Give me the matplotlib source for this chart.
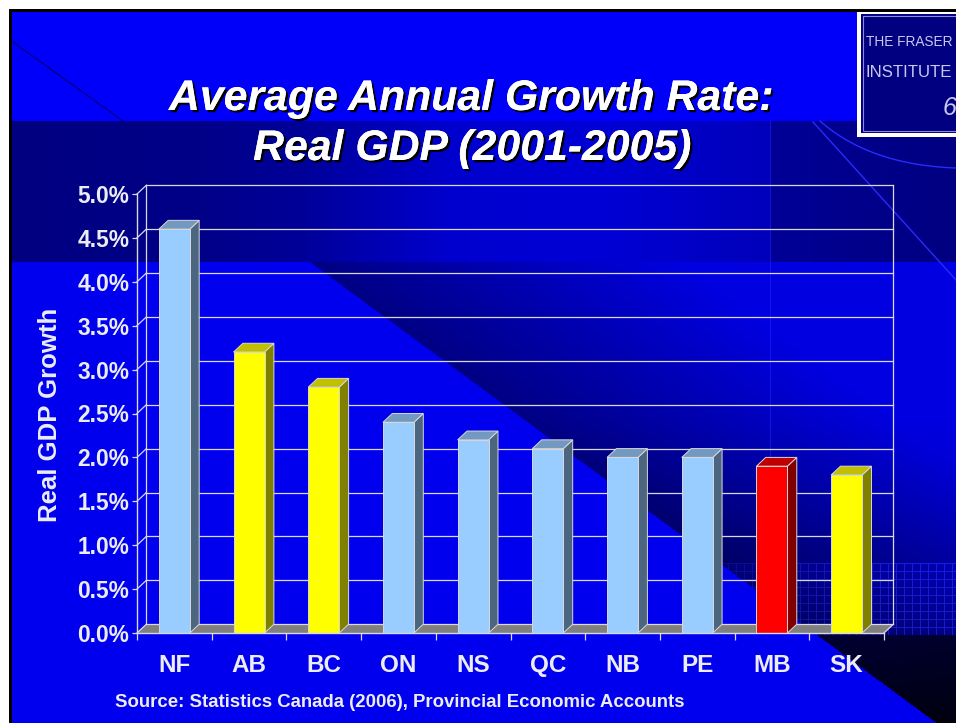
import numpy as np
import matplotlib
matplotlib.use("Agg")
import matplotlib.pyplot as plt
from matplotlib.patches import Polygon, Rectangle
import matplotlib.patheffects as pe
from matplotlib import font_manager

# ---- data -------------------------------------------------------------
provinces = ["NF", "AB", "BC", "ON", "NS", "QC", "NB", "PE", "MB", "SK"]
growth = [4.6, 3.2, 2.8, 2.4, 2.2, 2.1, 2.0, 2.0, 1.9, 1.8]
bar_style = ["blue", "yellow", "yellow", "blue", "blue", "blue",
             "blue", "blue", "red", "yellow"]
y_ticks = [0.0, 0.5, 1.0, 1.5, 2.0, 2.5, 3.0, 3.5, 4.0, 4.5, 5.0]
title_lines = ["Average Annual Growth Rate:", "Real GDP (2001-2005)"]
y_label = "Real GDP Growth"
source_note = "Source: Statistics Canada (2006), Provincial Economic Accounts"
logo_lines = ["THE FRASER", "INSTITUTE"]
slide_number = "6"

# face colours: (front, top, side)
faces = {
    "blue":   ("#99ccff", "#7399c0", "#4d6680"),
    "yellow": ("#ffff00", "#c0c000", "#808000"),
    "red":    ("#ff0000", "#bf0000", "#800000"),
}

plt.rcParams["font.family"] = ["Liberation Sans", "DejaVu Sans"]
plt.rcParams["font.weight"] = "bold"
plt.rcParams["axes.labelweight"] = "bold"

W, H = 956, 723
TXT = "#ececf6"
LINE = "#d8d8e8"

fig = plt.figure(figsize=(W / 100, H / 100), dpi=100)
fig.patch.set_facecolor("white")

# ---- slide background (pixel coordinates, y down) ----------------------
ax_bg = fig.add_axes([0, 0, 1, 1], zorder=0)
ax_bg.set_xlim(0, W)
ax_bg.set_ylim(H, 0)
ax_bg.axis("off")

yy, xx = np.mgrid[0:H, 0:W].astype(float) + 0.5
R = np.zeros((H, W))
G = np.zeros((H, W))
B = np.full((H, W), 238.0)

B[yy < 121] = 250
band = (yy >= 121) & (yy < 262)
B[band] = np.interp(xx[band], [12, 200, 300, 450, 600, 769, 771, 956],
                    [128, 136, 152, 206, 214, 186, 150, 128])

d = 0.593 * (xx - 310) - 0.806 * (yy - 262)
right = (yy >= 262) & (d >= 0)
upper = right & (yy < 635)
B[upper] = np.clip(132 + np.minimum(d, 220) * 0.42
                   - np.maximum(0, yy - 420) * 0.22, 70, 225)[upper]
mesh = upper & (xx >= 600) & (yy >= 563)
fade = np.clip((xx - 640) / 220, 0, 1)
B[mesh] += 18
gridm = mesh & ((((xx - 600) % 8) < 1) | (((yy - 563) % 8) < 1))
B[gridm] += (60 * fade)[gridm]
R[gridm] += (25 * fade)[gridm]
G[gridm] += (25 * fade)[gridm]
lower = right & (yy >= 635)
B[lower] = np.clip(52 - (yy - 635) * 0.35 - (xx - 818) * 0.05, 8, 60)[lower]

frame = (xx < 12) | (yy < 12)
R[frame] = G[frame] = B[frame] = 0
white = (xx < 9) | (yy < 9)
R[white] = G[white] = B[white] = 255

img = np.clip(np.dstack([R, G, B]) / 255.0, 0, 1)
ax_bg.imshow(img, extent=(0, W, H, 0), aspect="auto", interpolation="nearest", zorder=0)

# decorative strokes
ax_bg.plot([13, 123], [42, 121], color="#000070", lw=0.8, zorder=1)
ax_bg.plot([813, 956], [122, 280], color="#2a2aff", lw=1.0, zorder=1)
t = np.linspace(0, 1, 60)
p0, pc, p2 = np.array([820, 121]), np.array([870, 165]), np.array([956, 168])
arc = ((1 - t) ** 2)[:, None] * p0 + (2 * (1 - t) * t)[:, None] * pc + (t ** 2)[:, None] * p2
ax_bg.plot(arc[:, 0], arc[:, 1], color="#2a2aff", lw=1.0, zorder=1)
ax_bg.plot([770, 770], [121, 560], color="#2020ff", lw=0.8, alpha=0.6, zorder=1)

# logo box
ax_bg.add_patch(Rectangle((857, 12), 110, 125, fc="white", ec="none", zorder=2))
ax_bg.add_patch(Rectangle((861, 14), 110, 119, fc="#000080", ec="none", zorder=2))
ax_bg.add_patch(Rectangle((863, 16), 110, 115, fill=False, ec="#8a8ad8", lw=0.8, zorder=2))
font_names = {f.name for f in font_manager.fontManager.ttflist}
if "Liberation Sans Narrow" in font_names:
    logo_family = ["Liberation Sans Narrow", "DejaVu Sans"]
else:
    logo_family = ["Liberation Sans", "DejaVu Sans"]
renderer = fig.canvas.get_renderer()
for txt, yb in zip(logo_lines, (46, 77)):
    lt = ax_bg.text(866, yb, txt, family=logo_family, fontweight="normal",
                    fontsize=16, color="#c8c8f0", ha="left", va="baseline", zorder=3)
    width = lt.get_window_extent(renderer=renderer).width
    lt.set_fontsize(16 * 87.0 / width)
ax_bg.text(943, 115, slide_number, fontweight="normal", style="italic", fontsize=18,
           color="#c8c8f0", ha="left", va="baseline", zorder=3)

# title and source note
shadow = [pe.withSimplePatchShadow(offset=(1.6, -1.6), shadow_rgbFace="black", alpha=1.0),
          pe.Normal()]
ax_bg.text(471, 110, title_lines[0], ha="center", va="baseline", fontsize=30.8,
           style="italic", color="white", path_effects=shadow, zorder=3)
ax_bg.text(472, 160, title_lines[1], ha="center", va="baseline", fontsize=30.8,
           style="italic", color="white", path_effects=shadow, zorder=3)
ax_bg.text(115, 707, source_note, ha="left", va="baseline", fontsize=13.4,
           color=TXT, zorder=3)

# ---- 3-D column chart -------------------------------------------------
x0p, x1p, y0p, y1p = 137, 884, 633, 194
ax = fig.add_axes([x0p / W, 1 - y0p / H, (x1p - x0p) / W, (y0p - y1p) / H], zorder=1)
ax.patch.set_visible(False)
n = len(provinces)
ax.set_xlim(0, n)
ax.set_ylim(0, y_ticks[-1])

DX, DY = 0.125, 0.1   # depth offset of the chart box (data units)
BW = 0.415            # column width

# floor
ax.add_patch(Polygon([(0, 0), (n, 0), (n + DX, DY), (DX, DY)], closed=True,
                     fc="#808080", ec="none", zorder=1, clip_on=False))
# back wall grid, side wall diagonals and box edges
for v in y_ticks:
    ax.plot([DX, n + DX], [v + DY, v + DY], color=LINE, lw=0.9, zorder=2, clip_on=False)
    ax.plot([0, DX], [v, v + DY], color=LINE, lw=0.9, zorder=2, clip_on=False)
ax.plot([DX, DX], [DY, y_ticks[-1] + DY], color=LINE, lw=0.9, zorder=2, clip_on=False)
ax.plot([n + DX, n + DX], [DY, y_ticks[-1] + DY], color=LINE, lw=0.9, zorder=2, clip_on=False)
ax.plot([n, n + DX], [0, DY], color=LINE, lw=0.9, zorder=2, clip_on=False)

# columns
for i, (v, key) in enumerate(zip(growth, bar_style)):
    front, top, side = faces[key]
    xa = i + 0.5 - BW / 2
    xb = xa + BW
    kw = dict(ec="#d8d8d8", lw=0.7, zorder=5, clip_on=False)
    ax.add_patch(Polygon([(xb, 0), (xb + DX, DY), (xb + DX, v + DY), (xb, v)],
                         closed=True, fc=side, **kw))
    ax.add_patch(Polygon([(xa, v), (xb, v), (xb + DX, v + DY), (xa + DX, v + DY)],
                         closed=True, fc=top, **kw))
    ax.add_patch(Rectangle((xa, 0), BW, v, fc=front, **kw))

for s in ("top", "right"):
    ax.spines[s].set_visible(False)
for s in ("left", "bottom"):
    ax.spines[s].set_color(LINE)
    ax.spines[s].set_linewidth(1.0)
    ax.spines[s].set_zorder(6)

ax.set_yticks(y_ticks)
ax.set_yticklabels([f"{v:.1f}%" for v in y_ticks])
ax.tick_params(axis="y", direction="out", length=3.6, width=0.9, color=LINE,
               pad=2, labelsize=16.4, labelcolor=TXT)

ax.set_xticks(np.arange(n + 1))
ax.set_xticklabels([])
ax.tick_params(axis="x", which="major", direction="out", length=5, width=0.9, color=LINE)
ax.set_xticks(np.arange(n) + 0.5, minor=True)
ax.set_xticklabels(provinces, minor=True)
ax.tick_params(axis="x", which="minor", length=0, pad=15, labelsize=17.5, labelcolor=TXT)

ax.set_ylabel(y_label, fontsize=18.5, fontweight="bold", color=TXT)
ax.yaxis.set_label_coords((50 - x0p) / (x1p - x0p), (y0p - 415) / (y0p - y1p))
ax.yaxis.label.set_verticalalignment("center")

fig.savefig("out.png", dpi=100, facecolor=fig.get_facecolor())
